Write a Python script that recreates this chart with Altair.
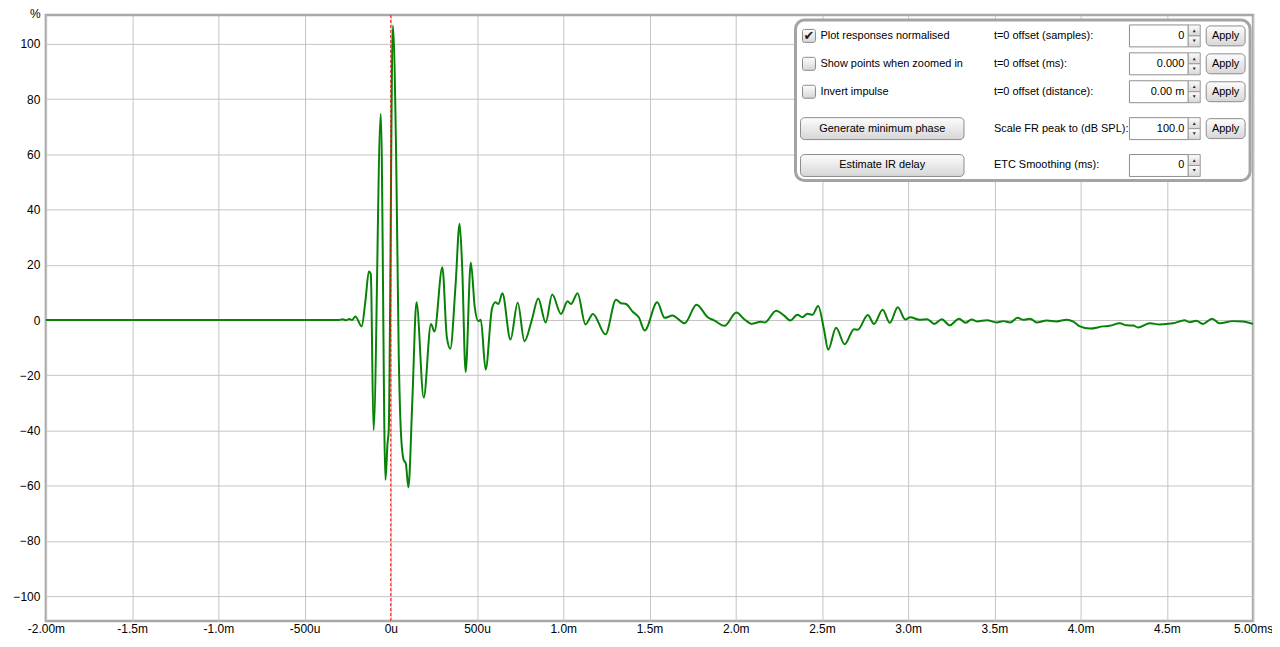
import altair as alt
import pandas as pd

# ---------------- data ----------------
time_ms = [
    -2.0, -0.30, -0.28, -0.26, -0.24, -0.225, -0.205, -0.169, -0.147, -0.127, -0.116,
    -0.100, -0.058, -0.031, -0.019, -0.012, 0.012, 0.031, 0.046, 0.059, 0.075, 0.087,
    0.102, 0.125, 0.149, 0.191, 0.233, 0.253, 0.299, 0.325, 0.345, 0.376, 0.399,
    0.414, 0.434, 0.464, 0.487, 0.507, 0.522, 0.550, 0.587, 0.607, 0.624, 0.647,
    0.694, 0.736, 0.775, 0.817, 0.855, 0.898, 0.936, 0.987, 1.025, 1.045, 1.083,
    1.129, 1.172, 1.245, 1.306, 1.334, 1.364, 1.403, 1.438, 1.472, 1.545, 1.588,
    1.634, 1.665, 1.703, 1.773, 1.838, 1.877, 1.935, 2.004, 2.050, 2.092, 2.146,
    2.169, 2.235, 2.281, 2.316, 2.358, 2.387, 2.416, 2.445, 2.478, 2.513, 2.536,
    2.582, 2.632, 2.686, 2.708, 2.766, 2.802, 2.852, 2.894, 2.940, 2.983, 3.013,
    3.064, 3.110, 3.152, 3.195, 3.241, 3.295, 3.333, 3.368, 3.399, 3.457, 3.514,
    3.553, 3.591, 3.634, 3.669, 3.707, 3.746, 3.803, 3.861, 3.919, 3.958, 3.996,
    4.054, 4.131, 4.169, 4.227, 4.266, 4.305, 4.333, 4.401, 4.458, 4.536, 4.603,
    4.632, 4.671, 4.709, 4.763, 4.805, 4.883, 4.940, 5.0,
]
amplitude_pct = [
    0.0, 0.0, 0.3, -0.1, 0.4, 0.0, 1.3, -2.3, 7.0, 17.6, 16.7,
    -39.9, 74.7, -57.9, -44.7, -40.0, 106.7, 60.1, -12.1, -41.0, -50.7, -51.9,
    -60.6, -29.1, 6.4, -28.1, -1.4, -4.2, 19.1, -6.2, -10.4, 13.1, 34.9,
    19.1, -18.8, 20.8, 4.6, -0.4, 0.1, -18.0, 4.2, 6.4, 5.8, 9.7,
    -7.1, 6.3, -7.7, -0.2, 7.8, -0.9, 9.2, 2.2, 6.8, 5.8, 9.7,
    -1.6, 2.2, -5.2, 7.3, 6.1, 5.8, 3.0, 1.0, -3.8, 6.4, 0.8,
    1.6, 0.4, -1.2, 5.5, 1.0, -0.2, -2.1, 2.7, 0.3, -1.4, -0.6,
    -0.9, 3.4, 1.6, -0.2, 1.9, 1.0, 2.3, 1.9, 5.1, -3.8, -10.8,
    -2.8, -8.8, -3.3, -3.5, 1.8, -1.4, 3.7, -1.0, 4.6, 0.2, 1.0,
    0.1, 0.3, -1.4, 0.3, -1.9, 0.5, -1.0, 0.2, -0.5, -0.1, -0.9,
    -0.4, -0.9, 0.8, 0.1, 0.5, -0.9, -0.2, -0.5, 0.1, -0.6, -2.3,
    -3.1, -2.3, -2.1, -1.2, -1.9, -2.0, -2.7, -1.2, -1.6, -1.2, -0.1,
    -0.8, -0.3, -1.4, 0.5, -1.2, -0.4, -0.5, -1.4,
]

x_tick_values = [-2.0, -1.5, -1.0, -0.5, 0.0, 0.5, 1.0, 1.5, 2.0, 2.5, 3.0, 3.5, 4.0, 4.5, 5.0]
x_tick_labels = ["-2.00m", "-1.5m", "-1.0m", "-500u", "0u", "500u", "1.0m", "1.5m",
                 "2.0m", "2.5m", "3.0m", "3.5m", "4.0m", "4.5m", "5.00ms"]
y_tick_values = [-100, -80, -60, -40, -20, 0, 20, 40, 60, 80, 100]

# control-panel contents
checkbox_labels = ["Plot responses normalised", "Show points when zoomed in", "Invert impulse"]
checkbox_checked = [True, False, False]
button_labels = ["Generate minimum phase", "Estimate IR delay"]
field_labels = ["t=0 offset (samples):", "t=0 offset (ms):", "t=0 offset (distance):",
                "Scale FR peak to (dB SPL):", "ETC Smoothing (ms):"]
field_values = ["0", "0.000", "0.00 m", "100.0", "0"]
field_has_apply = [True, True, True, True, False]

# ---------------- layout ----------------
W, H = 1211, 608
FONT = "Liberation Sans"
X_DOMAIN = [-2.0, 5.0]
Y_DOMAIN = [-109.05, 110.5]


def row_center(i):
    return 21 + 28 * i if i < 3 else 114 + 37 * (i - 3)


PANEL_X0, PANEL_X1, PANEL_Y0, PANEL_Y1 = 752, 1208, 5, 166
CB_X0, CB_X1 = 759, 772
BTN_X0, BTN_X1 = 757, 921
COL1_X, COL2_X = 777, 951
IN_X0, IN_X1 = 1087, 1146
SP_X0, SP_X1 = 1146, 1158
AP_X0, AP_X1 = 1164, 1203
HALF = 11

btn_grad = alt.LinearGradient(
    gradient="linear",
    stops=[alt.GradientStop(color="#fdfdfd", offset=0),
           alt.GradientStop(color="#d6d6d6", offset=1)],
    x1=0, x2=0, y1=0, y2=1,
)

df = pd.DataFrame({"t": time_ms, "a": amplitude_pct})

label_expr = "[" + ",".join("'%s'" % l for l in x_tick_labels) + "][round((datum.value + 2) * 2)]"

x_enc = alt.X(
    "t:Q",
    scale=alt.Scale(domain=X_DOMAIN, nice=False, zero=False),
    axis=alt.Axis(values=x_tick_values, labelExpr=label_expr, title=None, grid=True,
                  gridColor="#c4c4c4", gridWidth=1, ticks=False, domain=False,
                  labelFont=FONT, labelFontSize=12, labelColor="#000000",
                  labelPadding=2, labelFlush=False, labelOverlap=False),
)
y_enc = alt.Y(
    "a:Q",
    scale=alt.Scale(domain=Y_DOMAIN, nice=False, zero=False),
    axis=alt.Axis(values=y_tick_values, title="%", titleAngle=0, titleX=-11, titleY=-6,
                  titleAlign="center", titleBaseline="top", titleFont=FONT,
                  titleFontSize=12, titleFontWeight="normal", titleColor="#000000",
                  grid=True, gridColor="#c4c4c4", gridWidth=1, ticks=False, domain=False,
                  labelFont=FONT, labelFontSize=12, labelColor="#000000",
                  labelPadding=6, labelFlush=False, labelOverlap=False),
)

line = alt.Chart(df).mark_line(color="#078207", strokeWidth=2, interpolate="monotone").encode(
    x=x_enc, y=y_enc
)
zero_rule = alt.Chart(pd.DataFrame({"t": [0.0]})).mark_rule(
    color="#ff0000", strokeDash=[3, 2], strokeWidth=1
).encode(x=alt.X("t:Q"))

# ---------- panel dataframes ----------
PX = alt.X("x0:Q", scale=None)
PX2 = alt.X2("x1:Q")
PY = alt.Y("y0:Q", scale=None)
PY2 = alt.Y2("y1:Q")

panel_df = pd.DataFrame({"x0": [PANEL_X0], "x1": [PANEL_X1], "y0": [PANEL_Y0], "y1": [PANEL_Y1]})
panel_box = alt.Chart(panel_df).mark_rect(
    cornerRadius=9, fill="#ffffff", stroke="#a4a4a4", strokeWidth=3
).encode(x=PX, x2=PX2, y=PY, y2=PY2)

cb_rows = list(range(len(checkbox_labels)))
cb_df = pd.DataFrame({
    "x0": [CB_X0] * 3, "x1": [CB_X1] * 3,
    "y0": [row_center(i) - 6.5 for i in cb_rows],
    "y1": [row_center(i) + 6.5 for i in cb_rows],
})
checkboxes = alt.Chart(cb_df).mark_rect(
    cornerRadius=2, fill=btn_grad, stroke="#8a8a8a", strokeWidth=1
).encode(x=PX, x2=PX2, y=PY, y2=PY2)

check_df = pd.DataFrame({
    "x0": [(CB_X0 + CB_X1) / 2 for i in cb_rows if checkbox_checked[i]],
    "y0": [row_center(i) for i in cb_rows if checkbox_checked[i]],
    "txt": ["\u2714" for i in cb_rows if checkbox_checked[i]],
})
checks = alt.Chart(check_df).mark_text(
    font="DejaVu Sans", fontSize=13, color="#1a1a1a", align="center", baseline="middle"
).encode(x=PX, y=PY, text="txt:N")

cb_text_df = pd.DataFrame({"x0": [COL1_X] * 3, "y0": [row_center(i) for i in cb_rows],
                           "txt": checkbox_labels})
cb_texts = alt.Chart(cb_text_df).mark_text(
    font=FONT, fontSize=11, color="#000000", align="left", baseline="middle"
).encode(x=PX, y=PY, text="txt:N")

btn_rows = [3, 4]
btn_df = pd.DataFrame({
    "x0": [BTN_X0] * 2, "x1": [BTN_X1] * 2,
    "y0": [row_center(i) - HALF for i in btn_rows],
    "y1": [row_center(i) + HALF for i in btn_rows],
    "xc": [(BTN_X0 + BTN_X1) / 2] * 2,
    "yc": [row_center(i) for i in btn_rows],
    "txt": button_labels,
})
buttons = alt.Chart(btn_df).mark_rect(
    cornerRadius=4, fill=btn_grad, stroke="#8c8c8c", strokeWidth=1
).encode(x=PX, x2=PX2, y=PY, y2=PY2)
button_texts = alt.Chart(btn_df).mark_text(
    font=FONT, fontSize=11, color="#000000", align="center", baseline="middle"
).encode(x=alt.X("xc:Q", scale=None), y=alt.Y("yc:Q", scale=None), text="txt:N")

f_rows = list(range(len(field_labels)))
field_df = pd.DataFrame({
    "x0": [COL2_X] * 5,
    "y0": [row_center(i) for i in f_rows],
    "txt": field_labels,
})
field_texts = alt.Chart(field_df).mark_text(
    font=FONT, fontSize=11, color="#000000", align="left", baseline="middle"
).encode(x=PX, y=PY, text="txt:N")

in_df = pd.DataFrame({
    "x0": [IN_X0] * 5, "x1": [IN_X1] * 5,
    "y0": [row_center(i) - HALF for i in f_rows],
    "y1": [row_center(i) + HALF for i in f_rows],
    "xv": [IN_X1 - 4] * 5,
    "yc": [row_center(i) for i in f_rows],
    "txt": field_values,
})
inputs = alt.Chart(in_df).mark_rect(fill="#ffffff", stroke="#8f8f8f", strokeWidth=1).encode(
    x=PX, x2=PX2, y=PY, y2=PY2
)
input_texts = alt.Chart(in_df).mark_text(
    font=FONT, fontSize=11, color="#000000", align="right", baseline="middle"
).encode(x=alt.X("xv:Q", scale=None), y=alt.Y("yc:Q", scale=None), text="txt:N")

sp_df = pd.DataFrame({
    "x0": [SP_X0] * 10, "x1": [SP_X1] * 10,
    "y0": [row_center(i) - HALF + (HALF if k else 0) for i in f_rows for k in (0, 1)],
    "y1": [row_center(i) + (HALF if k else 0) for i in f_rows for k in (0, 1)],
})
spinners = alt.Chart(sp_df).mark_rect(fill=btn_grad, stroke="#9a9a9a", strokeWidth=1).encode(
    x=PX, x2=PX2, y=PY, y2=PY2
)
tri_df = pd.DataFrame({
    "x0": [(SP_X0 + SP_X1) / 2] * 10,
    "y0": [row_center(i) + (5 if k else -5) for i in f_rows for k in (0, 1)],
    "shp": ["triangle-down" if k else "triangle-up" for i in f_rows for k in (0, 1)],
})
triangles = alt.Chart(tri_df).mark_point(filled=True, size=10, color="#333333", opacity=1).encode(
    x=PX, y=PY, shape=alt.Shape("shp:N", scale=None, legend=None)
)

ap_rows = [i for i in f_rows if field_has_apply[i]]
ap_df = pd.DataFrame({
    "x0": [AP_X0] * len(ap_rows), "x1": [AP_X1] * len(ap_rows),
    "y0": [row_center(i) - 10 for i in ap_rows],
    "y1": [row_center(i) + 10 for i in ap_rows],
    "xc": [(AP_X0 + AP_X1) / 2] * len(ap_rows),
    "yc": [row_center(i) for i in ap_rows],
    "txt": ["Apply"] * len(ap_rows),
})
apply_btns = alt.Chart(ap_df).mark_rect(
    cornerRadius=4, fill=btn_grad, stroke="#8c8c8c", strokeWidth=1
).encode(x=PX, x2=PX2, y=PY, y2=PY2)
apply_texts = alt.Chart(ap_df).mark_text(
    font=FONT, fontSize=11, color="#000000", align="center", baseline="middle"
).encode(x=alt.X("xc:Q", scale=None), y=alt.Y("yc:Q", scale=None), text="txt:N")

chart = alt.layer(
    line, zero_rule,
    panel_box, checkboxes, checks, cb_texts, buttons, button_texts,
    field_texts, inputs, input_texts, spinners, triangles, apply_btns, apply_texts,
).properties(
    width=W, height=H,
    autosize=alt.AutoSizeParams(type="none"),
    padding={"left": 38, "top": 6, "right": 19, "bottom": 17},
    background="#ffffff",
).configure_view(
    stroke="#a8a8a8", strokeWidth=2.5
)

chart.save("out.html", embed_options={"renderer": "svg", "actions": False})
